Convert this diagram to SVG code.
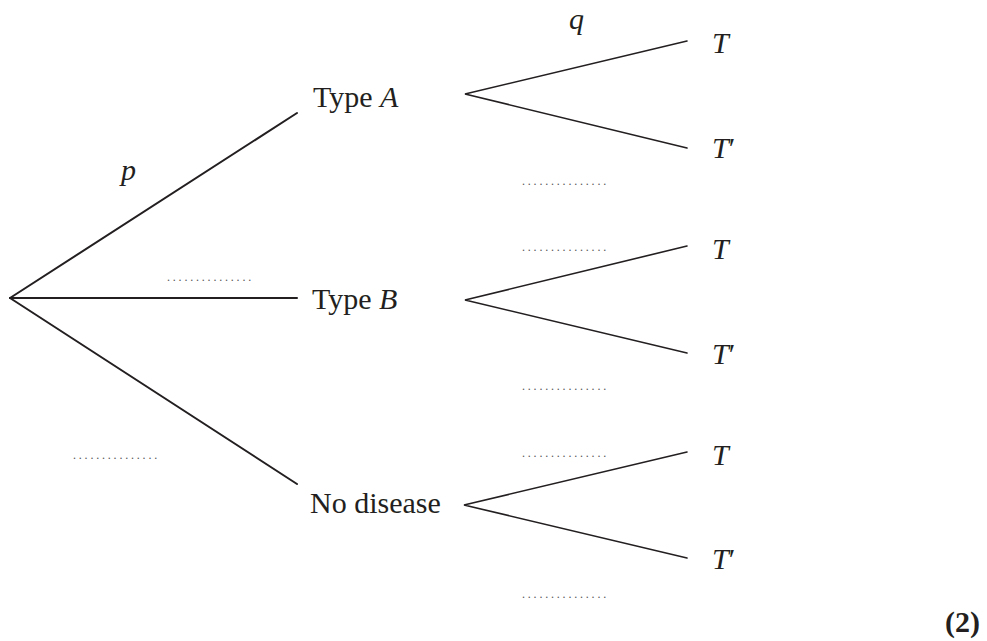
<svg xmlns="http://www.w3.org/2000/svg" width="987" height="641" viewBox="0 0 987 641">
<style>
.t{font-family:"Liberation Serif","Times New Roman",serif;font-size:30px;fill:#231f20}
.i{font-style:italic}
.d{font-family:"Liberation Serif","Times New Roman",serif;font-size:12px;letter-spacing:2.8px;fill:#555}
.b{font-weight:bold}
.c1{stroke:#231f20;stroke-width:2;fill:none;stroke-linecap:round}
.c2{stroke:#231f20;stroke-width:1.6;fill:none;stroke-linecap:round}
</style>
<rect width="987" height="641" fill="#fff"/>
<g id="connectors">
<line class="c1" x1="10" y1="298" x2="297" y2="113"/>
<line class="c1" x1="10" y1="298" x2="297" y2="298"/>
<line class="c1" x1="10" y1="298" x2="297" y2="484"/>
<polyline class="c2" points="687,41 465,94 687,148"/>
<polyline class="c2" points="687,246 465,300 687,353"/>
<polyline class="c2" points="687,452 464,505 687,558"/>
</g>
<g id="labels">
<text class="t i" x="121" y="180">p</text>
<text class="t i" x="569" y="29">q</text>
<text class="d" x="167" y="281">...............</text>
<text class="d" x="73" y="459">...............</text>
<text class="d" x="522" y="185">...............</text>
<text class="d" x="522" y="251">...............</text>
<text class="d" x="522" y="390">...............</text>
<text class="d" x="522" y="457">...............</text>
<text class="d" x="522" y="598">...............</text>
</g>
<g id="typeA"><text class="t" x="313" y="107">Type <tspan class="i">A</tspan></text></g>
<g id="typeB"><text class="t" x="312" y="309">Type <tspan class="i">B</tspan></text></g>
<g id="noDisease"><text class="t" x="310" y="513">No disease</text></g>
<g id="A_T"><text class="t i" x="712" y="53">T</text></g>
<g id="A_Tp"><text class="t" x="712" y="158"><tspan class="i">T</tspan>′</text></g>
<g id="B_T"><text class="t i" x="712" y="259">T</text></g>
<g id="B_Tp"><text class="t" x="712" y="364"><tspan class="i">T</tspan>′</text></g>
<g id="N_T"><text class="t i" x="712" y="465">T</text></g>
<g id="N_Tp"><text class="t" x="712" y="569"><tspan class="i">T</tspan>′</text></g>
<g id="marks"><text class="t b" x="945" y="632">(2)</text></g>
</svg>
